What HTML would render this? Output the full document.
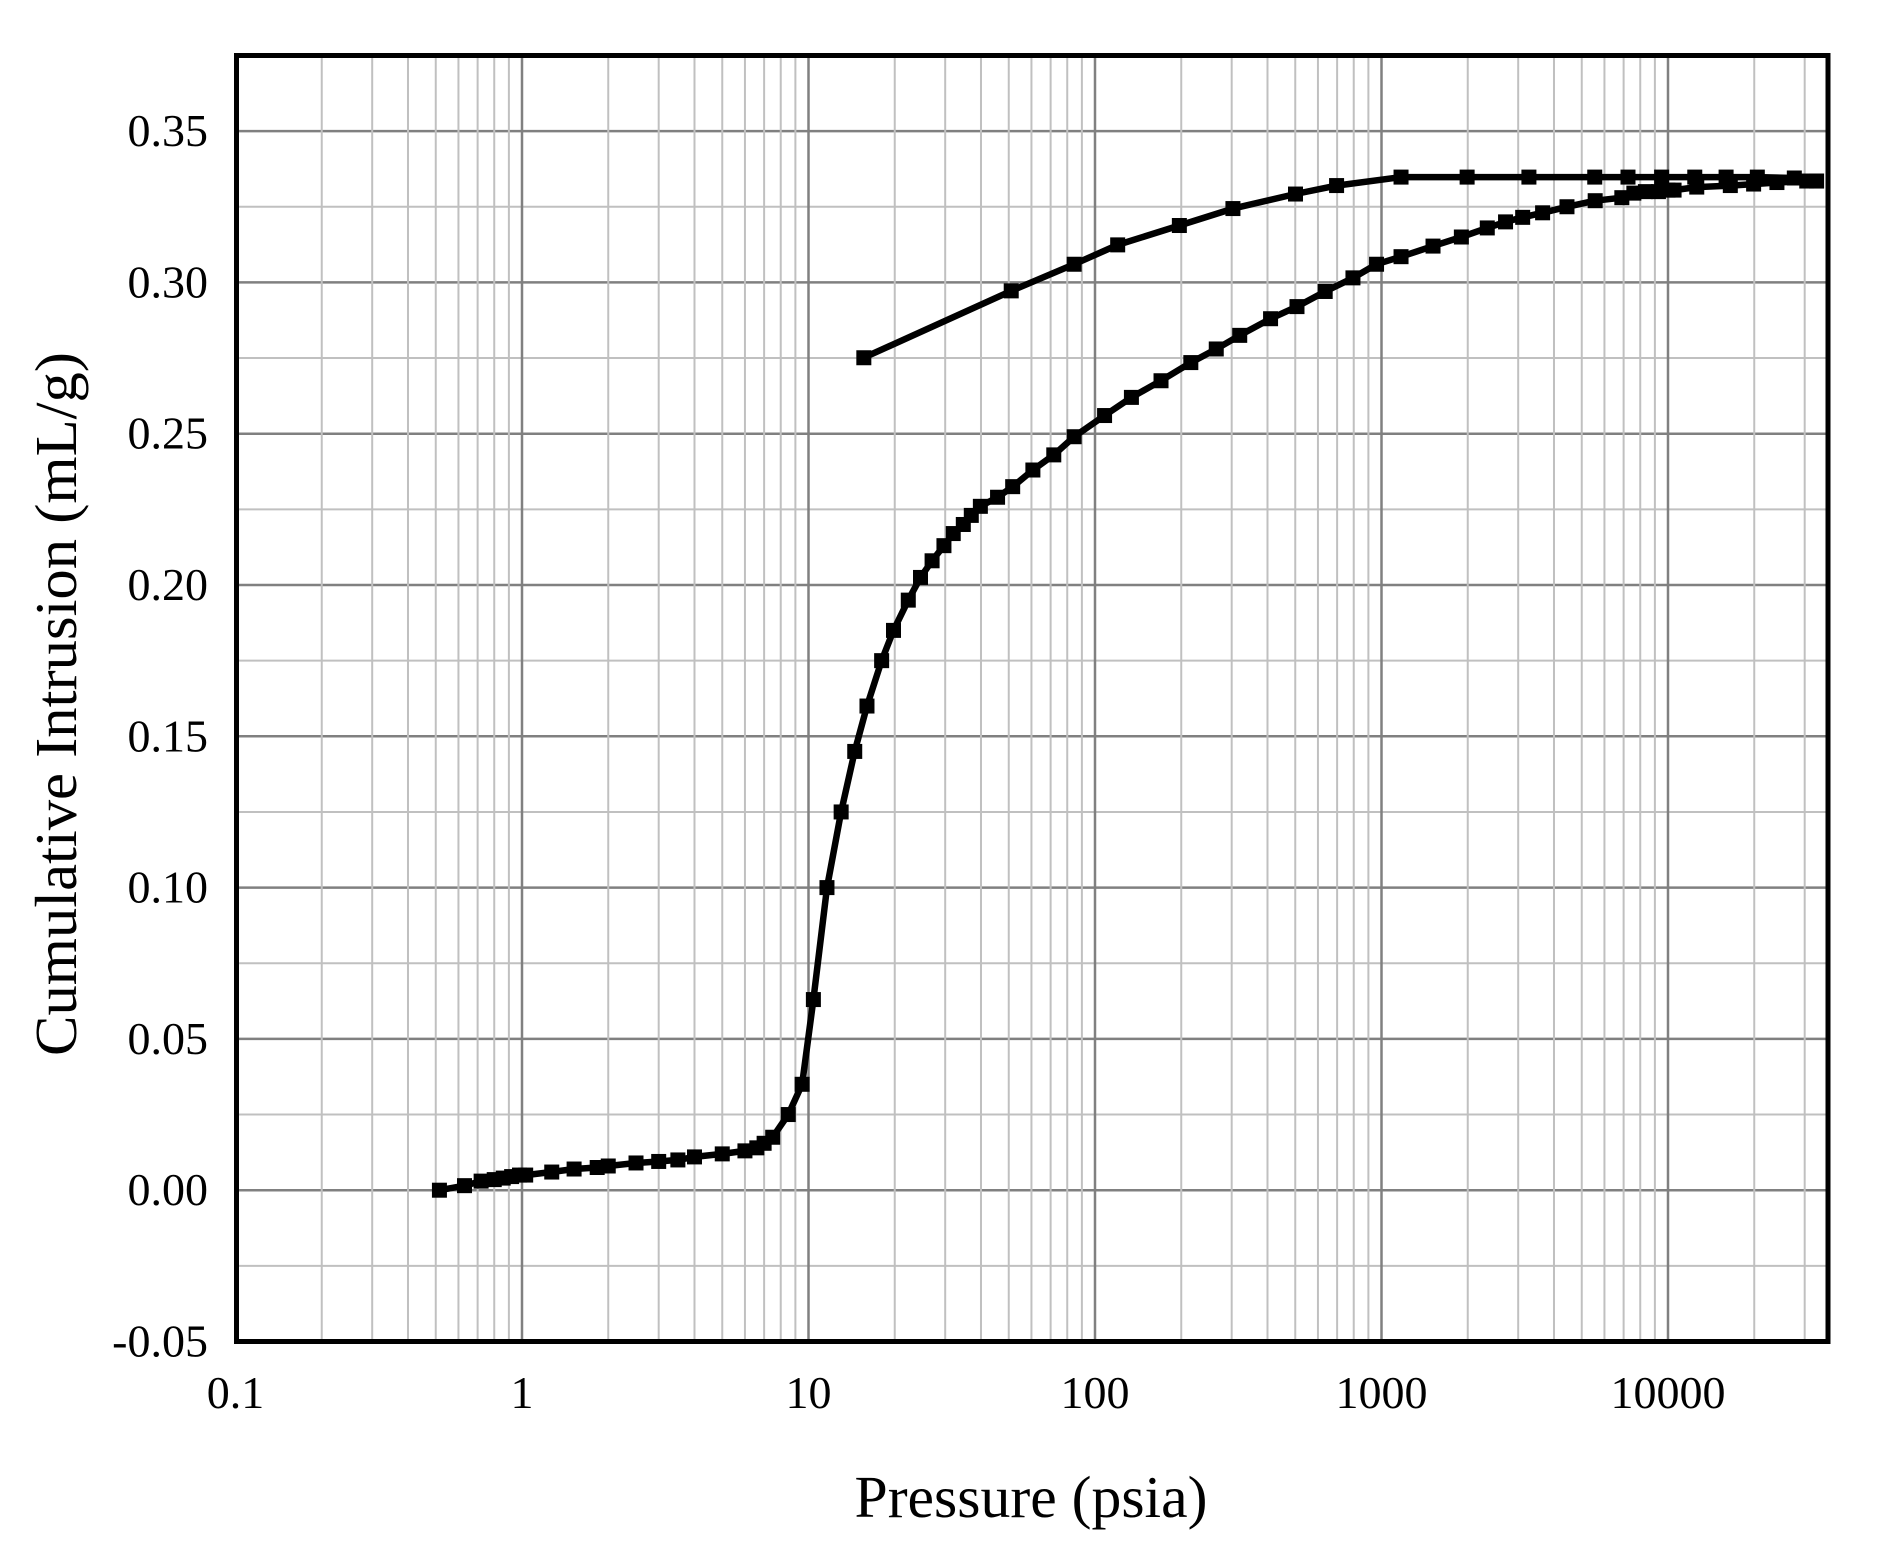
<!DOCTYPE html>
<html><head><meta charset="utf-8"><style>html,body{margin:0;padding:0;background:#fff}svg{display:block}</style></head>
<body>
<svg id="s" width="1899" height="1553" xmlns="http://www.w3.org/2000/svg" font-family="'Liberation Serif', serif"></svg>
<script>
const s=document.getElementById('s');
const L=236.5,R=1828,T=55.5,B=1341.5;
const X=p=>235.5+286.5*(Math.log10(p)+1);
const Y=v=>1341.5-(v+0.05)/0.05*151.3;
let h='';
for(let i=0;i<17;i++){const v=-0.05+i*0.025;const y=Y(v);if(y<T)continue;
 h+=`<line x1="${L}" x2="${R}" y1="${y}" y2="${y}" stroke="${i%2==0?'#808080':'#c0c0c0'}" stroke-width="${i%2==0?2.5:2}"/>`;}
for(let d=-1;d<=4;d++){for(let k=1;k<=9;k++){const p=k*Math.pow(10,d);const x=X(p);if(x<=L+2||x>=R)continue;
 h+=`<line x1="${x}" x2="${x}" y1="${T}" y2="${B}" stroke="${k==1?'#808080':'#c0c0c0'}" stroke-width="${k==1?2.5:2}"/>`;}}
h+=`<rect x="${L}" y="${T}" width="${R-L}" height="${B-T}" fill="none" stroke="#000" stroke-width="5"/>`;
const yl=['-0.05','0.00','0.05','0.10','0.15','0.20','0.25','0.30','0.35'];
yl.forEach((t,i)=>{h+=`<text x="208" y="${Y(-0.05+i*0.05)+15}" font-size="46" text-anchor="end">${t}</text>`;});
['0.1','1','10','100','1000','10000'].forEach((t,i)=>{h+=`<text x="${235.5+286.5*i}" y="1408" font-size="46" text-anchor="middle">${t}</text>`;});
h+=`<text x="1031" y="1517" font-size="59" text-anchor="middle" textLength="353" lengthAdjust="spacingAndGlyphs">Pressure (psia)</text>`;
h+=`<text transform="translate(76,704) rotate(-90)" font-size="59" text-anchor="middle" textLength="704" lengthAdjust="spacingAndGlyphs">Cumulative Intrusion (mL/g)</text>`;
const A=[[0.515,0],[0.63,0.0015],[0.72,0.003],[0.8,0.0035],[0.86,0.004],[0.92,0.0045],[0.98,0.005],[1.03,0.005],[1.27,0.006],[1.52,0.007],[1.83,0.0075],[2,0.008],[2.5,0.009],[3,0.0095],[3.5,0.01],[4,0.011],[5,0.012],[6,0.013],[6.6,0.014],[7,0.0155],[7.5,0.0175],[8.5,0.025],[9.5,0.035],[10.4,0.063],[11.6,0.1],[13,0.125],[14.5,0.145],[16,0.16],[18,0.175],[19.8,0.185],[22.3,0.195],[24.6,0.2025],[27,0.208],[29.7,0.213],[32,0.217],[34.7,0.22],[37,0.223],[39.8,0.226],[45.7,0.229],[51.6,0.2325],[60.7,0.238],[71.8,0.243],[84.6,0.249],[108,0.256],[134,0.262],[170,0.2675],[216,0.2735],[265,0.278],[320,0.2825],[410,0.288],[507,0.292],[636,0.297],[795,0.3015],[961,0.306],[1170,0.3085],[1513,0.312],[1900,0.315],[2340,0.318],[2710,0.32],[3110,0.3215],[3650,0.323],[4440,0.325],[5570,0.327],[6900,0.328],[7600,0.3295],[8340,0.33],[9260,0.33],[10000,0.3305],[10500,0.3305],[12600,0.3315],[16500,0.332],[19900,0.3325],[24000,0.333],[30500,0.3335],[33000,0.3335]];
const E=[[33000,0.3335],[27600,0.3345],[20500,0.3348],[15950,0.3348],[12400,0.3348],[9500,0.3348],[7250,0.3348],[5550,0.3348],[3270,0.3348],[1990,0.3348],[1170,0.3348],[697,0.332],[501,0.3292],[303,0.3244],[197,0.3188],[120,0.3124],[84.6,0.306],[51,0.2972],[15.6,0.2751]];
function ser(D){let pts=D.map(d=>X(d[0]).toFixed(1)+','+Y(d[1]).toFixed(1)).join(' ');
 let o=`<polyline points="${pts}" fill="none" stroke="#000" stroke-width="6.5" stroke-linejoin="round"/>`;
 D.forEach(d=>{o+=`<rect x="${X(d[0])-7.5}" y="${Y(d[1])-7.5}" width="15" height="15" fill="#000"/>`;});return o;}
h+=ser(A)+ser(E);
s.innerHTML=h;
</script>
</body></html>
